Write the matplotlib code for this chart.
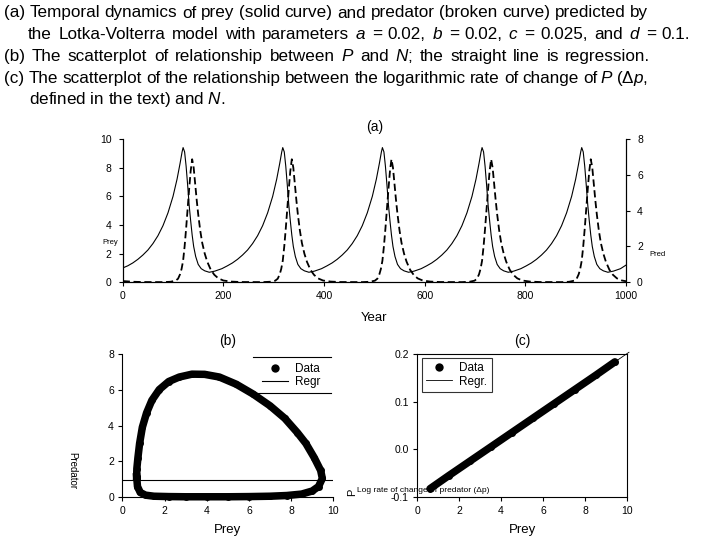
import matplotlib.pyplot as plt

plt.rcParams['font.family'] = ['Liberation Sans', 'DejaVu Sans']
plt.rcParams['mathtext.fontset'] = 'custom'
plt.rcParams['mathtext.rm'] = 'Liberation Sans'
plt.rcParams['mathtext.it'] = 'Liberation Sans:italic'
plt.rcParams['axes.unicode_minus'] = False

# --- (a) prey (solid, left axis)
year_prey = [0, 10, 20, 30, 40, 50, 60, 70, 80, 90, 100, 108, 114, 118, 120, 123, 126, 129, 132, 135, 138, 141, 145, 150, 156, 163, 172, 183,
             197, 208, 218, 228, 238, 248, 258, 268, 278, 288, 298, 306, 312, 316, 318, 321, 324, 327, 330, 333, 336, 339, 343, 348, 354, 361, 370, 381,
             395, 406, 416, 426, 436, 446, 456, 466, 476, 486, 496, 504, 510, 514, 516, 519, 522, 525, 528, 531, 534, 537, 541, 546, 552, 559, 568, 579,
             593, 604, 614, 624, 634, 644, 654, 664, 674, 684, 694, 702, 708, 712, 714, 717, 720, 723, 726, 729, 732, 735, 739, 744, 750, 757, 766, 777,
             791, 802, 812, 822, 832, 842, 852, 862, 872, 882, 892, 900, 906, 910, 912, 915, 918, 921, 924, 927, 930, 933, 937, 942, 948, 955, 964, 975,
             989, 1000]
prey = [1.0, 1.15, 1.35, 1.6, 1.9, 2.25, 2.7, 3.25, 3.95, 4.85, 6.0, 7.2, 8.3, 9.1, 9.4, 9.1, 8.1, 6.8, 5.4, 4.3, 3.3, 2.5, 1.8, 1.25, 0.95, 0.8, 0.7, 0.78,
        0.95, 1.15, 1.35, 1.6, 1.9, 2.25, 2.7, 3.25, 3.95, 4.85, 6.0, 7.2, 8.3, 9.1, 9.4, 9.1, 8.1, 6.8, 5.4, 4.3, 3.3, 2.5, 1.8, 1.25, 0.95, 0.8, 0.7, 0.78,
        0.95, 1.15, 1.35, 1.6, 1.9, 2.25, 2.7, 3.25, 3.95, 4.85, 6.0, 7.2, 8.3, 9.1, 9.4, 9.1, 8.1, 6.8, 5.4, 4.3, 3.3, 2.5, 1.8, 1.25, 0.95, 0.8, 0.7, 0.78,
        0.95, 1.15, 1.35, 1.6, 1.9, 2.25, 2.7, 3.25, 3.95, 4.85, 6.0, 7.2, 8.3, 9.1, 9.4, 9.1, 8.1, 6.8, 5.4, 4.3, 3.3, 2.5, 1.8, 1.25, 0.95, 0.8, 0.7, 0.78,
        0.95, 1.15, 1.35, 1.6, 1.9, 2.25, 2.7, 3.25, 3.95, 4.85, 6.0, 7.2, 8.3, 9.1, 9.4, 9.1, 8.1, 6.8, 5.4, 4.3, 3.3, 2.5, 1.8, 1.25, 0.95, 0.8, 0.7, 0.78,
        0.95, 1.2]

# --- (a) predator (broken, right axis)
year_pred = [0, 20, 40, 80, 95, 105, 110, 114, 117, 120, 123, 126, 129, 132, 135, 138, 141, 144, 147, 150, 154, 158, 163, 168, 175, 182, 190, 200, 215, 235,
             278, 293, 303, 308, 312, 315, 318, 321, 324, 327, 330, 333, 336, 339, 342, 345, 348, 352, 356, 361, 366, 373, 380, 388, 398, 413, 433,
             476, 491, 501, 506, 510, 513, 516, 519, 522, 525, 528, 531, 534, 537, 540, 543, 546, 550, 554, 559, 564, 571, 578, 586, 596, 611, 631,
             674, 689, 699, 704, 708, 711, 714, 717, 720, 723, 726, 729, 732, 735, 738, 741, 744, 748, 752, 757, 762, 769, 776, 784, 794, 809, 829,
             872, 887, 897, 902, 906, 909, 912, 915, 918, 921, 924, 927, 930, 933, 936, 939, 942, 946, 950, 955, 960, 967, 974, 982, 992, 1000]
predator = [0.07, 0.03, 0.015, 0.01, 0.03, 0.09, 0.2, 0.45, 0.75, 1.2, 2.0, 3.0, 4.1, 5.2, 6.2, 6.87, 6.4, 5.5, 4.6, 3.8, 2.9, 2.2, 1.6, 1.15, 0.7, 0.42, 0.22, 0.1, 0.04, 0.015,
            0.01, 0.03, 0.09, 0.2, 0.45, 0.75, 1.2, 2.0, 3.0, 4.1, 5.2, 6.2, 6.87, 6.4, 5.5, 4.6, 3.8, 2.9, 2.2, 1.6, 1.15, 0.7, 0.42, 0.22, 0.1, 0.04, 0.015,
            0.01, 0.03, 0.09, 0.2, 0.45, 0.75, 1.2, 2.0, 3.0, 4.1, 5.2, 6.2, 6.87, 6.4, 5.5, 4.6, 3.8, 2.9, 2.2, 1.6, 1.15, 0.7, 0.42, 0.22, 0.1, 0.04, 0.015,
            0.01, 0.03, 0.09, 0.2, 0.45, 0.75, 1.2, 2.0, 3.0, 4.1, 5.2, 6.2, 6.87, 6.4, 5.5, 4.6, 3.8, 2.9, 2.2, 1.6, 1.15, 0.7, 0.42, 0.22, 0.1, 0.04, 0.015,
            0.01, 0.03, 0.09, 0.2, 0.45, 0.75, 1.2, 2.0, 3.0, 4.1, 5.2, 6.2, 6.87, 6.4, 5.5, 4.6, 3.8, 2.9, 2.2, 1.6, 1.15, 0.7, 0.42, 0.22, 0.1, 0.06]

# --- (b) predator vs prey loop
loop_prey = [0.68, 0.72, 0.85, 1.1, 1.5, 2.2, 3.0, 4.0, 5.0, 6.0, 7.0, 7.8, 8.5, 9.0, 9.3, 9.48, 9.4, 9.1, 8.7, 8.3, 7.7, 7.0, 6.2,
             5.4, 4.6, 3.9, 3.3, 2.7, 2.2, 1.75, 1.4, 1.15, 0.95, 0.82, 0.74, 0.69, 0.68]
loop_pred = [1.15, 0.6, 0.27, 0.12, 0.06, 0.04, 0.03, 0.03, 0.03, 0.04, 0.06, 0.1, 0.18, 0.35, 0.6, 1.05, 1.5, 2.2, 3.0, 3.6, 4.4, 5.1, 5.75,
             6.3, 6.7, 6.85, 6.86, 6.7, 6.45, 6.0, 5.4, 4.7, 3.9, 3.0, 2.2, 1.6, 1.15]
regr_b_x = [0, 10]
regr_b_y = [0.98, 0.98]

# --- (c) log rate of change of P vs prey
rate_prey = [0.62, 1.5, 2.5, 3.5, 4.5, 5.5, 6.5, 7.5, 8.5, 9.41]
rate_dp = [-0.082, -0.055, -0.025, 0.005, 0.035, 0.065, 0.095, 0.125, 0.155, 0.183]
regr_c_x = [0.62, 10.08]
regr_c_y = [-0.082, 0.203]

# caption lines: (text, left px, right px or None)
caption = [
    ('(a) Temporal dynamics of prey (solid curve) and predator (broken curve) predicted by', 4, 648),
    ('the Lotka-Volterra model with parameters $a$ = 0.02, $b$ = 0.02, $c$ = 0.025, and $d$ = 0.1.', 28, 690),
    ('(b) The scatterplot of relationship between $P$ and $N$; the straight line is regression.', 4, 650),
    ('(c) The scatterplot of the relationship between the logarithmic rate of change of $P$ (\u0394$p$,', 4, 648),
    ('defined in the text) and $N$.', 29, None),
]

W, H = 720, 540
fig = plt.figure(figsize=(7.2, 5.4), dpi=100)
renderer = fig.canvas.get_renderer()


def px(x, y):
    return x / W, 1 - y / H


def text_width(s):
    t = fig.text(0, 0, s, fontsize=12.3)
    w = t.get_window_extent(renderer).width
    t.remove()
    return w


# justified caption: natural word positions plus an equal extra gap per space
for i, (line, x0, x1) in enumerate(caption):
    y = 1 - (17.5 + 21.7 * i) / H
    if x1 is None:
        fig.text(x0 / W, y, line, fontsize=12.3, va='baseline', ha='left')
        continue
    words = line.split(' ')
    starts = [text_width(' '.join(words[:k + 1])) - text_width(words[k]) for k in range(len(words))]
    total = text_width(line)
    extra = (x1 - x0 - total) / (len(words) - 1)
    for k, w in enumerate(words):
        fig.text((x0 + starts[k] + k * extra) / W, y, w, fontsize=12.3, va='baseline', ha='left')


def style(ax, size=7.5):
    ax.tick_params(direction='out', length=3, width=0.8, labelsize=size, pad=3)
    for s in ax.spines.values():
        s.set_linewidth(0.8)


# panel (a)
ax = fig.add_axes([122.7 / W, 1 - 282.3 / H, 503.3 / W, 143.3 / H])
ax2 = ax.twinx()
ax.plot(year_prey, prey, color='black', lw=0.8)
ax2.plot(year_pred, predator, color='black', lw=1.3, ls=(0, (4, 2)))
ax.set_xlim(0, 1000)
ax.set_ylim(0, 10)
ax2.set_ylim(0, 8)
ax.set_xticks(range(0, 1001, 200))
ax.set_yticks(range(0, 11, 2))
ax2.set_yticks(range(0, 9, 2))
for a in (ax, ax2):
    a.spines['top'].set_visible(False)
    style(a)
ax.tick_params(axis='y', pad=5)
ax2.tick_params(axis='y', pad=5)
ax.set_xlabel('Year', fontsize=9.5, labelpad=8)
ax.set_title('(a)', fontsize=10, pad=6)

# panel (b)
axb = fig.add_axes([122.3 / W, 1 - 497.3 / H, 211 / W, 143.6 / H])
axb.plot(loop_prey, loop_pred, color='black', lw=5.4, solid_joinstyle='round', clip_on=False)
axb.plot(loop_prey, loop_pred, 'o', color='black', ms=5, mew=0, label='Data', clip_on=False)
axb.plot(regr_b_x, regr_b_y, color='black', lw=0.8, label='Regr')
axb.set_xlim(0, 10)
axb.set_ylim(0, 8)
axb.set_xticks(range(0, 11, 2))
axb.set_yticks(range(0, 9, 2))
axb.spines['top'].set_visible(False)
axb.spines['right'].set_visible(False)
style(axb)
axb.set_xlabel('Prey', fontsize=9.5, labelpad=6)
axb.set_title('(b)', fontsize=10, pad=6)
leg = axb.legend(loc='center', bbox_to_anchor=(0.80, 0.85), frameon=False, fontsize=8.5,
                 handlelength=2.2, handletextpad=0.6, labelspacing=0.1, markerscale=1.2)
for yy in (0.977, 0.728):
    axb.plot([0.621, 0.988], [yy, yy], color='black', lw=0.8, transform=axb.transAxes)

# panel (c)
axc = fig.add_axes([417 / W, 1 - 497.3 / H, 210.3 / W, 143.6 / H])
axc.plot(rate_prey, rate_dp, color='black', lw=5.4, solid_capstyle='round')
axc.plot(rate_prey, rate_dp, 'o', color='black', ms=5, mew=0, label='Data')
axc.plot(regr_c_x, regr_c_y, color='black', lw=0.6, label='Regr.', clip_on=False)
axc.set_xlim(0, 10)
axc.set_ylim(-0.1, 0.2)
axc.set_xticks(range(0, 11, 2))
axc.set_yticks([-0.1, 0.0, 0.1, 0.2])
axc.set_yticklabels(['-0.1', '0.0', '0.1', '0.2'])
style(axc)
axc.set_xlabel('Prey', fontsize=9.5, labelpad=6)
axc.set_title('(c)', fontsize=10, pad=6)
legc = axc.legend(loc='upper left', bbox_to_anchor=(0.025, 0.968), borderaxespad=0, fontsize=8.5,
                  fancybox=False, edgecolor='black', handlelength=2.2, handletextpad=0.6,
                  labelspacing=0.1, markerscale=1.2, borderpad=0.35)
legc.get_frame().set_linewidth(0.8)

# misplaced axis labels as they appear in the original
fig.text(*px(110, 243), 'Prey', fontsize=5.5, ha='center', va='center')
fig.text(*px(657, 254), 'Pred', fontsize=5.5, ha='center', va='center')
fig.text(*px(72, 471), 'Predator', fontsize=7, rotation=270, ha='center', va='center')
fig.text(*px(352, 492), 'P', fontsize=8, rotation=90, ha='center', va='center')
fig.text(*px(423, 491), 'Log rate of change of predator (\u0394p)', fontsize=6, ha='center', va='center')

fig.savefig('out.png', dpi=100)
